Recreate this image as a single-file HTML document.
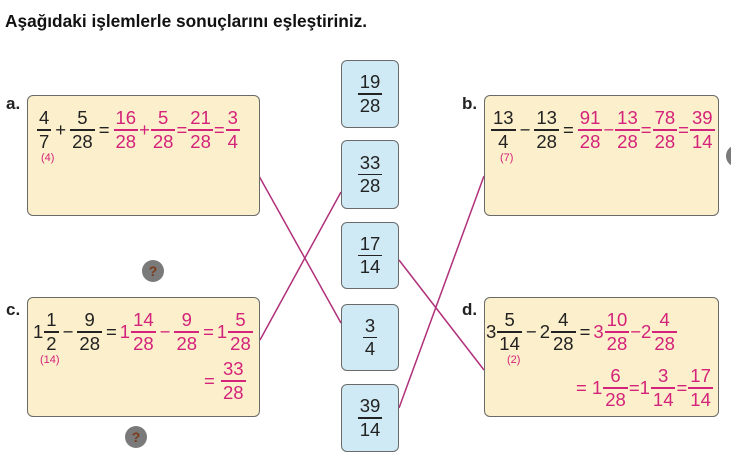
<!DOCTYPE html><html><head><meta charset="utf-8"><style>
body{margin:0;width:731px;height:465px;background:#fff;position:relative;overflow:hidden;font-family:"Liberation Sans",sans-serif;}
.a{position:absolute}
.box{position:absolute;background:#fcefcb;border:1.5px solid #6a6a6a;border-radius:6px;box-sizing:border-box}
.mb{position:absolute;left:341px;width:58px;background:#cfeaf5;border:1.5px solid #6a6a6a;border-radius:6px;box-sizing:border-box;display:flex;justify-content:center;align-items:center}
.lbl{position:absolute;font-weight:bold;font-size:17px;color:#222}
.row{position:absolute;display:flex;align-items:center;height:44px;font-size:18.5px;color:#222;white-space:nowrap}
.f{display:inline-flex;flex-direction:column;align-items:center;line-height:20px;margin:0 1px}
.f i{font-style:normal;padding:0 2px}
.f b{display:block;align-self:stretch;height:1.5px;background:currentColor;margin:1px 0}
.p{color:#d3237a}
.op{margin:0 3px}
.sm{position:absolute;font-size:11px;color:#d3237a}
.q{position:absolute;width:22px;height:22px;border-radius:50%;background:#7a7a7a;color:#7b3b1a;font-weight:bold;font-size:14px;text-align:center;line-height:22px}
</style></head><body>
<div class="a" style="left:5px;top:11px;font-size:17.3px;font-weight:bold;color:#111">Aşağıdaki işlemlerle sonuçlarını eşleştiriniz.</div>

<svg class="a" style="left:0;top:0" width="731" height="465"><g stroke="#b0307a" stroke-width="1.5" fill="none">
<line x1="259" y1="176" x2="341" y2="323"/><line x1="260" y1="340" x2="341" y2="192"/>
<line x1="399" y1="260" x2="484" y2="370"/><line x1="399" y1="408" x2="484" y2="176"/></g></svg>

<div class="lbl" style="left:6px;top:94px">a.</div>
<div class="lbl" style="left:462px;top:94px">b.</div>
<div class="lbl" style="left:6px;top:300px">c.</div>
<div class="lbl" style="left:462px;top:300px">d.</div>

<div class="box" style="left:27px;top:95px;width:233px;height:121px"></div>
<div class="box" style="left:484px;top:95px;width:235px;height:121px"></div>
<div class="box" style="left:27px;top:297px;width:233px;height:120px"></div>
<div class="box" style="left:484px;top:297px;width:235px;height:120px"></div>

<div class="row" style="left:36px;top:108px"><span class="f"><i>4</i><b></b><i>7</i></span><span class="op">+</span><span class="f"><i>5</i><b></b><i>28</i></span><span class="op">=</span><span class="p" style="display:flex;align-items:center"><span class="f"><i>16</i><b></b><i>28</i></span>+<span class="f"><i>5</i><b></b><i>28</i></span>=<span class="f"><i>21</i><b></b><i>28</i></span>=<span class="f"><i>3</i><b></b><i>4</i></span></span></div>
<div class="sm" style="left:41px;top:152px">(4)</div>

<div class="row" style="left:490px;top:108px"><span class="f"><i>13</i><b></b><i>4</i></span><span class="op">−</span><span class="f"><i>13</i><b></b><i>28</i></span><span class="op">=</span><span class="p" style="display:flex;align-items:center"><span class="f"><i>91</i><b></b><i>28</i></span>−<span class="f"><i>13</i><b></b><i>28</i></span>=<span class="f"><i>78</i><b></b><i>28</i></span>=<span class="f"><i>39</i><b></b><i>14</i></span></span></div>
<div class="sm" style="left:500px;top:152px">(7)</div>

<div class="row" style="left:33px;top:310px">1<span class="f"><i>1</i><b></b><i>2</i></span><span class="op">−</span><span class="f"><i>9</i><b></b><i>28</i></span><span class="op">=</span><span class="p" style="display:flex;align-items:center">1<span class="f"><i>14</i><b></b><i>28</i></span><span class="op">−</span><span class="f"><i>9</i><b></b><i>28</i></span><span class="op">=</span>1<span class="f"><i>5</i><b></b><i>28</i></span></span></div>
<div class="sm" style="left:40px;top:354px">(14)</div>
<div class="row p" style="left:204px;top:359px">=&nbsp;<span class="f"><i>33</i><b></b><i>28</i></span></div>

<div class="row" style="left:486px;top:310px">3<span class="f"><i>5</i><b></b><i>14</i></span><span class="op">−</span>2<span class="f"><i>4</i><b></b><i>28</i></span><span class="op">=</span><span class="p" style="display:flex;align-items:center">3<span class="f"><i>10</i><b></b><i>28</i></span>−2<span class="f"><i>4</i><b></b><i>28</i></span></span></div>
<div class="sm" style="left:507px;top:354px">(2)</div>
<div class="row p" style="left:576px;top:366px">= 1<span class="f"><i>6</i><b></b><i>28</i></span>=1<span class="f"><i>3</i><b></b><i>14</i></span>=<span class="f"><i>17</i><b></b><i>14</i></span></div>

<div class="mb" style="top:60px;height:68px"><span class="row" style="position:static;height:auto"><span class="f"><i>19</i><b></b><i>28</i></span></span></div>
<div class="mb" style="top:140px;height:69px"><span class="row" style="position:static;height:auto"><span class="f"><i>33</i><b></b><i>28</i></span></span></div>
<div class="mb" style="top:222px;height:67px"><span class="row" style="position:static;height:auto"><span class="f"><i>17</i><b></b><i>14</i></span></span></div>
<div class="mb" style="top:304px;height:67px"><span class="row" style="position:static;height:auto"><span class="f"><i>3</i><b></b><i>4</i></span></span></div>
<div class="mb" style="top:384px;height:68px"><span class="row" style="position:static;height:auto"><span class="f"><i>39</i><b></b><i>14</i></span></span></div>

<div class="q" style="left:142px;top:260px">?</div>
<div class="q" style="left:125px;top:426px">?</div>
<div class="q" style="left:726px;top:145px"></div>
</body></html>
